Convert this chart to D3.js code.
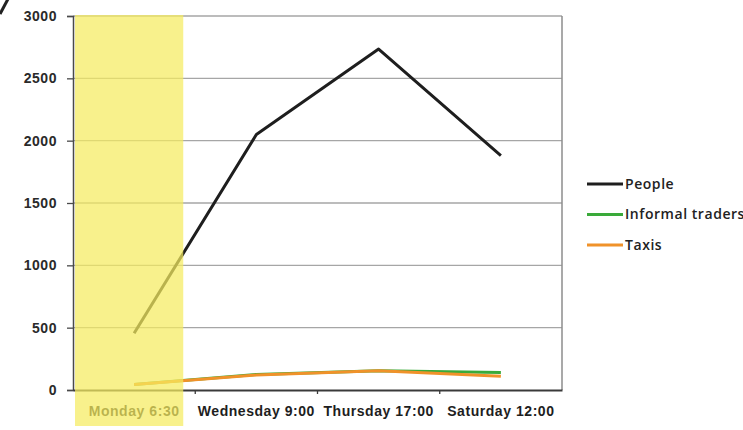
<!DOCTYPE html>
<html>
<head>
<meta charset="utf-8">
<script src="https://cdn.jsdelivr.net/npm/d3@7"></script>
<style>
  html, body { margin: 0; padding: 0; background: #fff; }
  svg { display: block; font-family: "Open Sans", "Liberation Sans", sans-serif; }
</style>
</head>
<body>
<svg id="chart" width="743" height="430"></svg>
<script>
// Observation times and counts per series
const categories = ["Monday 6:30", "Wednesday 9:00", "Thursday 17:00", "Saturday 12:00"];
const people = [455, 2050, 2735, 1880];
const informalTraders = [45, 125, 155, 140];
const taxis = [45, 120, 155, 110];
const yTicks = [0, 500, 1000, 1500, 2000, 2500, 3000];

const series = [
  { name: "People", values: people, color: "#1e1e1e" },
  { name: "Informal traders", values: informalTraders, color: "#3aaa3a" },
  { name: "Taxis", values: taxis, color: "#f0922a" }
];

const svg = d3.select("#chart");
const plot = { left: 73, right: 562, top: 16, bottom: 390 };
const fontSize = 14;
const spacing = 0.55;

const x = d3.scaleBand().domain(categories).range([plot.left, plot.right]);
const y = d3.scaleLinear().domain([0, 3000]).range([plot.bottom, plot.top]);
const xc = d => x(d) + x.bandwidth() / 2;

// Horizontal gridlines
svg.append("g")
  .selectAll("line")
  .data(yTicks.filter(t => t > 0))
  .join("line")
  .attr("x1", plot.left).attr("x2", plot.right)
  .attr("y1", d => y(d)).attr("y2", d => y(d))
  .attr("stroke", "#a6a6a6").attr("stroke-width", 1.3);

// Right frame
svg.append("line")
  .attr("x1", plot.right).attr("x2", plot.right)
  .attr("y1", plot.top).attr("y2", plot.bottom)
  .attr("stroke", "#8c8c8c").attr("stroke-width", 1.5);

// Y axis
const yAxis = svg.append("g")
  .attr("transform", `translate(${plot.left},0)`)
  .call(d3.axisLeft(y).tickValues(yTicks).tickSize(6).tickPadding(10).tickFormat(d3.format("d")));
yAxis.select(".domain").attr("stroke", "#4a4a4a").attr("stroke-width", 1.5);
yAxis.selectAll(".tick line").attr("stroke", "#4a4a4a").attr("stroke-width", 1.3);
yAxis.selectAll(".tick text")
  .attr("fill", "#2a2a2a").attr("font-size", fontSize).attr("font-weight", 600)
  .attr("letter-spacing", spacing);

// X axis with ticks at band edges
const xAxis = svg.append("g")
  .attr("transform", `translate(0,${plot.bottom})`)
  .call(d3.axisBottom(x).tickSize(0).tickPadding(16));
xAxis.select(".domain").attr("stroke", "#3a3a3a").attr("stroke-width", 2);
xAxis.selectAll(".tick text")
  .attr("fill", "#1e1e1e").attr("font-size", fontSize).attr("font-weight", 600)
  .attr("letter-spacing", spacing);
xAxis.append("g").selectAll("line")
  .data(categories.slice(1))
  .join("line")
  .attr("x1", d => x(d)).attr("x2", d => x(d))
  .attr("y1", 0).attr("y2", 4)
  .attr("stroke", "#3a3a3a").attr("stroke-width", 1.3);

// Series lines (taxis drawn last, on top)
const line = d3.line()
  .x((v, i) => xc(categories[i]))
  .y(v => y(v));

svg.append("g")
  .selectAll("path")
  .data(series)
  .join("path")
  .attr("d", s => line(s.values))
  .attr("fill", "none")
  .attr("stroke", s => s.color)
  .attr("stroke-width", 3)
  .attr("stroke-linejoin", "round");

// Highlight over the first observation
svg.append("rect")
  .attr("x", x(categories[0]) + 2)
  .attr("y", plot.top - 1)
  .attr("width", x.bandwidth() - 14)
  .attr("height", 427 - plot.top)
  .attr("fill", "rgb(245,236,95)")
  .attr("opacity", 0.72);

// Legend
const legend = svg.append("g").attr("transform", "translate(587,184)");
const item = legend.selectAll("g")
  .data(series)
  .join("g")
  .attr("transform", (d, i) => `translate(0,${i * 30.5})`);
item.append("line")
  .attr("x1", 0).attr("x2", 36)
  .attr("stroke", d => d.color).attr("stroke-width", 3);
item.append("text")
  .attr("x", 38).attr("dy", "0.35em")
  .attr("font-size", fontSize).attr("font-weight", 600)
  .attr("letter-spacing", spacing)
  .attr("fill", "#222")
  .text(d => d.name);

// Corner stroke
svg.append("line")
  .attr("x1", 0).attr("y1", 14).attr("x2", 8).attr("y2", -1)
  .attr("stroke", "#222").attr("stroke-width", 3);
</script>
</body>
</html>
